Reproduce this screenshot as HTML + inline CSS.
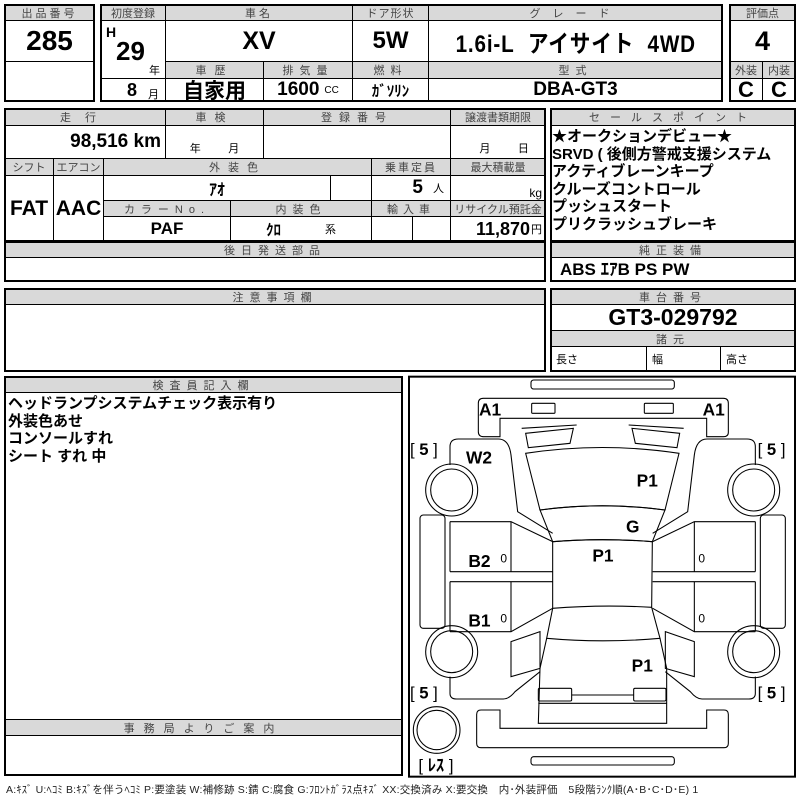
<!DOCTYPE html>
<html><head><meta charset="utf-8"><style>
body{margin:0;width:800px;height:800px;background:#fff;position:relative;overflow:hidden;font-family:"Liberation Sans","Noto Sans CJK JP",sans-serif;}
.c{position:absolute;box-sizing:border-box;border:1px solid #000;display:flex;align-items:center;justify-content:center;white-space:nowrap;color:#000;}
.h{background:#d9d9d9;font-size:11px;letter-spacing:3px;color:#444;}
.f{position:absolute;box-sizing:border-box;border:2px solid #000;}
.v{font-weight:bold;font-family:"Liberation Sans Narrow","Liberation Sans","Noto Sans CJK JP",sans-serif;}
.t{position:absolute;white-space:nowrap;}
</style></head><body>

<!-- Box1 -->
<div class="c h" style="left:4px;top:4px;width:91px;height:17px">出品番号</div>
<div class="c v" style="left:4px;top:20px;width:91px;height:42px;font-size:28px">285</div>
<div class="c" style="left:4px;top:61px;width:91px;height:41px"></div>
<div class="f" style="left:4px;top:4px;width:91px;height:98px"></div>

<!-- Box2 -->
<div class="c h" style="left:100px;top:4px;width:66px;height:17px;letter-spacing:0">初度登録</div>
<div class="c" style="left:100px;top:20px;width:66px;height:59px"></div>
<div class="t v" style="left:106px;top:24px;font-size:14px">H</div>
<div class="t v" style="left:116px;top:36px;font-size:26px">29</div>
<div class="t" style="left:149px;top:62px;font-size:11px">年</div>
<div class="c" style="left:100px;top:78px;width:66px;height:24px"></div>
<div class="t v" style="left:127px;top:80px;font-size:18px">8</div>
<div class="t" style="left:148px;top:86px;font-size:11px">月</div>
<div class="c h" style="left:165px;top:4px;width:188px;height:17px">車名</div>
<div class="c v" style="left:165px;top:20px;width:188px;height:42px;font-size:25px">XV</div>
<div class="c h" style="left:352px;top:4px;width:77px;height:17px;letter-spacing:1px">ドア形状</div>
<div class="c v" style="left:352px;top:20px;width:77px;height:42px;font-size:24px">5W</div>
<div class="c h" style="left:428px;top:4px;width:295px;height:17px;letter-spacing:12px">グレード</div>
<div class="c v" style="left:428px;top:20px;width:295px;height:42px;font-size:24px;letter-spacing:1px"><span style="display:inline-block;transform:scaleX(0.86)">1.6i-L&nbsp;&nbsp;アイサイト&nbsp;&nbsp;4WD</span></div>
<div class="c h" style="left:165px;top:61px;width:99px;height:18px;letter-spacing:8px">車歴</div>
<div class="c h" style="left:263px;top:61px;width:90px;height:18px;letter-spacing:6px">排気量</div>
<div class="c h" style="left:352px;top:61px;width:77px;height:18px;letter-spacing:6px">燃料</div>
<div class="c h" style="left:428px;top:61px;width:295px;height:18px;letter-spacing:6px">型式</div>
<div class="c v" style="left:165px;top:78px;width:99px;height:24px;font-size:21px">自家用</div>
<div class="c" style="left:263px;top:78px;width:90px;height:24px"><span class="v" style="font-size:19px">1600</span><span style="font-size:10px;margin-left:5px">CC</span></div>
<div class="c v" style="left:352px;top:78px;width:77px;height:24px;font-size:15px">ｶﾞｿﾘﾝ</div>
<div class="c v" style="left:428px;top:78px;width:295px;height:24px;font-size:19px">DBA-GT3</div>
<div class="f" style="left:100px;top:4px;width:623px;height:98px"></div>

<!-- Box3 -->
<div class="c h" style="left:729px;top:4px;width:67px;height:17px;letter-spacing:0">評価点</div>
<div class="c v" style="left:729px;top:20px;width:67px;height:42px;font-size:27px">4</div>
<div class="c h" style="left:729px;top:61px;width:34px;height:18px;letter-spacing:0">外装</div>
<div class="c h" style="left:762px;top:61px;width:34px;height:18px;letter-spacing:0">内装</div>
<div class="c v" style="left:729px;top:78px;width:34px;height:24px;font-size:22px">C</div>
<div class="c v" style="left:762px;top:78px;width:34px;height:24px;font-size:22px">C</div>
<div class="f" style="left:729px;top:4px;width:67px;height:98px"></div>

<!-- Row2 -->
<div class="c h" style="left:4px;top:108px;width:162px;height:18px;letter-spacing:14px">走行</div>
<div class="c h" style="left:165px;top:108px;width:99px;height:18px;letter-spacing:8px">車検</div>
<div class="c h" style="left:263px;top:108px;width:188px;height:18px;letter-spacing:7px">登録番号</div>
<div class="c h" style="left:450px;top:108px;width:96px;height:18px;letter-spacing:0">譲渡書類期限</div>
<div class="c" style="left:4px;top:125px;width:162px;height:34px;justify-content:flex-end;padding-right:4px"><span class="v" style="font-size:19px">98,516 km</span></div>
<div class="c" style="left:165px;top:125px;width:99px;height:34px;align-items:flex-end;font-size:11px;padding-bottom:2px">年&nbsp;&nbsp;&nbsp;&nbsp;&nbsp;&nbsp;&nbsp;&nbsp;&nbsp;月</div>
<div class="c" style="left:263px;top:125px;width:188px;height:34px"></div>
<div class="c" style="left:450px;top:125px;width:96px;height:34px;align-items:flex-end;font-size:11px;padding-bottom:2px">&nbsp;&nbsp;&nbsp;&nbsp;月&nbsp;&nbsp;&nbsp;&nbsp;&nbsp;&nbsp;&nbsp;&nbsp;&nbsp;日</div>
<div class="c h" style="left:4px;top:158px;width:50px;height:18px;letter-spacing:0">シフト</div>
<div class="c h" style="left:53px;top:158px;width:51px;height:18px;letter-spacing:0">エアコン</div>
<div class="c h" style="left:103px;top:158px;width:269px;height:18px;letter-spacing:8px">外装色</div>
<div class="c h" style="left:371px;top:158px;width:80px;height:18px;letter-spacing:2px">乗車定員</div>
<div class="c h" style="left:450px;top:158px;width:96px;height:18px;letter-spacing:0">最大積載量</div>
<div class="c v" style="left:4px;top:175px;width:50px;height:67px;font-size:21px">FAT</div>
<div class="c v" style="left:53px;top:175px;width:51px;height:67px;font-size:21px">AAC</div>
<div class="c v" style="left:103px;top:175px;width:228px;height:26px;font-size:16px">ｱｵ</div>
<div class="c" style="left:330px;top:175px;width:42px;height:26px"></div>
<div class="c" style="left:371px;top:175px;width:80px;height:26px;justify-content:flex-end;padding-right:6px"><span class="v" style="font-size:19px">5</span><span style="font-size:11px;margin-left:10px">人</span></div>
<div class="c" style="left:450px;top:175px;width:96px;height:26px;justify-content:flex-end;align-items:flex-end;padding-right:3px;font-size:12px">kg</div>
<div class="c h" style="left:103px;top:200px;width:128px;height:17px;letter-spacing:6px">カラーNo.</div>
<div class="c h" style="left:230px;top:200px;width:142px;height:17px;letter-spacing:6px">内装色</div>
<div class="c h" style="left:371px;top:200px;width:80px;height:17px;letter-spacing:5px">輸入車</div>
<div class="c h" style="left:450px;top:200px;width:96px;height:17px;letter-spacing:0">リサイクル預託金</div>
<div class="c v" style="left:103px;top:216px;width:128px;height:26px;font-size:17px">PAF</div>
<div class="c" style="left:230px;top:216px;width:142px;height:26px"><span class="v" style="font-size:15px">ｸﾛ</span><span style="font-size:11px;margin-left:44px">系</span></div>
<div class="c" style="left:371px;top:216px;width:42px;height:26px"></div>
<div class="c" style="left:412px;top:216px;width:39px;height:26px"></div>
<div class="c" style="left:450px;top:216px;width:96px;height:26px;justify-content:flex-end;padding-right:3px"><span class="v" style="font-size:18px">11,870</span><span style="font-size:11px;margin-left:1px">円</span></div>
<div class="f" style="left:4px;top:108px;width:542px;height:134px"></div>

<div class="c h" style="left:4px;top:241px;width:542px;height:17px;letter-spacing:6px">後日発送部品</div>
<div class="f" style="left:4px;top:241px;width:542px;height:41px"></div>

<!-- Sales -->
<div class="c h" style="left:550px;top:108px;width:246px;height:18px;letter-spacing:10px">セールスポイント</div>
<div class="t v" style="left:552px;top:128px;font-size:15px;line-height:17.6px">★オークションデビュー★<br>SRVD ( 後側方警戒支援システム<br>アクティブレーンキープ<br>クルーズコントロール<br>プッシュスタート<br>プリクラッシュブレーキ</div>
<div class="f" style="left:550px;top:108px;width:246px;height:134px"></div>
<div class="c h" style="left:550px;top:241px;width:246px;height:17px;letter-spacing:6px">純正装備</div>
<div class="t v" style="left:560px;top:259px;font-size:17px;line-height:22px">ABS ｴｱB PS PW</div>
<div class="f" style="left:550px;top:241px;width:246px;height:41px"></div>

<!-- Notes -->
<div class="c h" style="left:4px;top:288px;width:542px;height:17px;letter-spacing:6px">注意事項欄</div>
<div class="f" style="left:4px;top:288px;width:542px;height:84px"></div>
<div class="c h" style="left:550px;top:288px;width:246px;height:17px;letter-spacing:6px">車台番号</div>
<div class="c v" style="left:550px;top:304px;width:246px;height:27px;font-size:23px">GT3-029792</div>
<div class="c h" style="left:550px;top:330px;width:246px;height:17px;letter-spacing:6px">諸元</div>
<div class="c" style="left:550px;top:346px;width:97px;height:26px;justify-content:flex-start;padding-left:5px;font-size:11px">長さ</div>
<div class="c" style="left:646px;top:346px;width:75px;height:26px;justify-content:flex-start;padding-left:5px;font-size:11px">幅</div>
<div class="c" style="left:720px;top:346px;width:76px;height:26px;justify-content:flex-start;padding-left:5px;font-size:11px">高さ</div>
<div class="f" style="left:550px;top:288px;width:246px;height:84px"></div>

<!-- Inspector -->
<div class="c h" style="left:4px;top:376px;width:399px;height:17px;letter-spacing:6px">検査員記入欄</div>
<div class="t v" style="left:8px;top:395px;font-size:15px;line-height:17.6px">ヘッドランプシステムチェック表示有り<br>外装色あせ<br>コンソールすれ<br>シート すれ 中</div>
<div class="c h" style="left:4px;top:719px;width:399px;height:17px;letter-spacing:9px">事務局よりご案内</div>
<div class="f" style="left:4px;top:376px;width:399px;height:400px"></div>

<!-- Car diagram -->
<svg style="position:absolute;left:405px;top:375px" width="395" height="425" viewBox="0 0 1185 1275">
<g fill="none" stroke="#000" stroke-width="3.2">
<rect x="12" y="5" width="1158" height="1200" stroke-width="6"/>
<rect x="378" y="15" width="430" height="27" rx="8"/>
<rect x="378" y="1145" width="430" height="25" rx="8"/>
<path d="M235,70 H955 Q970,70 970,85 V172 Q970,185 955,185 H905 V130 H285 V185 H235 Q220,185 220,170 V85 Q220,70 235,70 Z"/>
<rect x="380" y="85" width="70" height="30" rx="3"/>
<rect x="718" y="85" width="87" height="30" rx="3"/>
<path d="M228,1005 H285 V1060 H905 V1005 H957 Q970,1005 970,1018 V1105 Q970,1118 957,1118 H228 Q215,1118 215,1105 V1018 Q215,1005 228,1005 Z"/>
<path d="M362,235 Q592,200 822,235 L780,405 Q592,380 405,405 Z"/>
<path d="M405,405 Q592,380 780,405 L742,500 Q592,488 443,500 Z"/>
<path d="M443,500 Q592,488 742,500 L740,697 Q592,688 443,700 Z"/>
<path d="M443,700 L425,790 Q592,805 765,790 L740,697"/>
<path d="M425,790 L405,880 L400,1045 H785 L785,880 L765,790"/>
<line x1="400" y1="985" x2="785" y2="985"/>
<rect x="400" y="940" width="100" height="38" rx="4"/>
<rect x="686" y="940" width="97" height="38" rx="4"/>
<line x1="500" y1="960" x2="686" y2="960"/>
<g id="side">
<path d="M350,160 L515,150"/>
<path d="M362,175 L505,160 L495,205 L370,218 Z"/>
<path d="M135,270 V215 Q135,192 160,192 H280 Q312,192 318,240 L338,410 L443,475"/>
<circle cx="140" cy="345" r="78"/><circle cx="140" cy="345" r="63"/>
<rect x="45" y="420" width="75" height="340" rx="10"/>
<path d="M135,440 H318 L443,500"/>
<path d="M135,440 V590 M135,620 V770"/>
<path d="M135,590 H443 M135,620 H443"/>
<path d="M318,440 V590 M318,620 V770"/>
<path d="M135,770 H318 L443,700"/>
<circle cx="140" cy="830" r="78"/><circle cx="140" cy="830" r="63"/>
<path d="M318,800 L405,770 L405,880 L318,905 Z"/>
<path d="M135,905 V955 Q135,972 155,972 H295 Q312,972 330,950 L405,890"/>
</g>
<use href="#side" transform="translate(1186,0) scale(-1,1)"/>
<circle cx="95" cy="1065" r="70"/><circle cx="95" cy="1065" r="59"/>
</g>
<g font-family="Liberation Sans, sans-serif" font-weight="bold" font-size="52" fill="#000">
<text x="222" y="122">A1</text><text x="893" y="122">A1</text>
<text x="183" y="265">W2</text>
<text x="695" y="335">P1</text>
<text x="663" y="472">G</text>
<text x="562" y="560">P1</text>
<text x="190" y="576">B2</text>
<text x="190" y="755">B1</text>
<text x="680" y="890">P1</text>
</g>
<g font-family="Liberation Sans, sans-serif" font-size="36" fill="#000">
<text x="286" y="563">0</text><text x="880" y="563">0</text>
<text x="286" y="743">0</text><text x="880" y="743">0</text>
</g>
<g font-family="Liberation Sans, Noto Sans CJK JP, sans-serif" font-size="50" fill="#000">
<text x="15" y="240">[ <tspan font-weight="bold">5</tspan> ]</text>
<text x="1058" y="240">[ <tspan font-weight="bold">5</tspan> ]</text>
<text x="15" y="970">[ <tspan font-weight="bold">5</tspan> ]</text>
<text x="1058" y="970">[ <tspan font-weight="bold">5</tspan> ]</text>
<text x="40" y="1188">[ <tspan font-weight="bold">ﾚｽ</tspan> ]</text>
</g>
</svg>

<div class="t" style="left:6px;top:782px;font-size:10.5px;color:#222;letter-spacing:0.2px">A:ｷｽﾞ U:ﾍｺﾐ B:ｷｽﾞを伴うﾍｺﾐ P:要塗装 W:補修跡 S:錆 C:腐食 G:ﾌﾛﾝﾄｶﾞﾗｽ点ｷｽﾞ XX:交換済み X:要交換　内･外装評価　5段階ﾗﾝｸ順(A･B･C･D･E) 1</div>
</body></html>
